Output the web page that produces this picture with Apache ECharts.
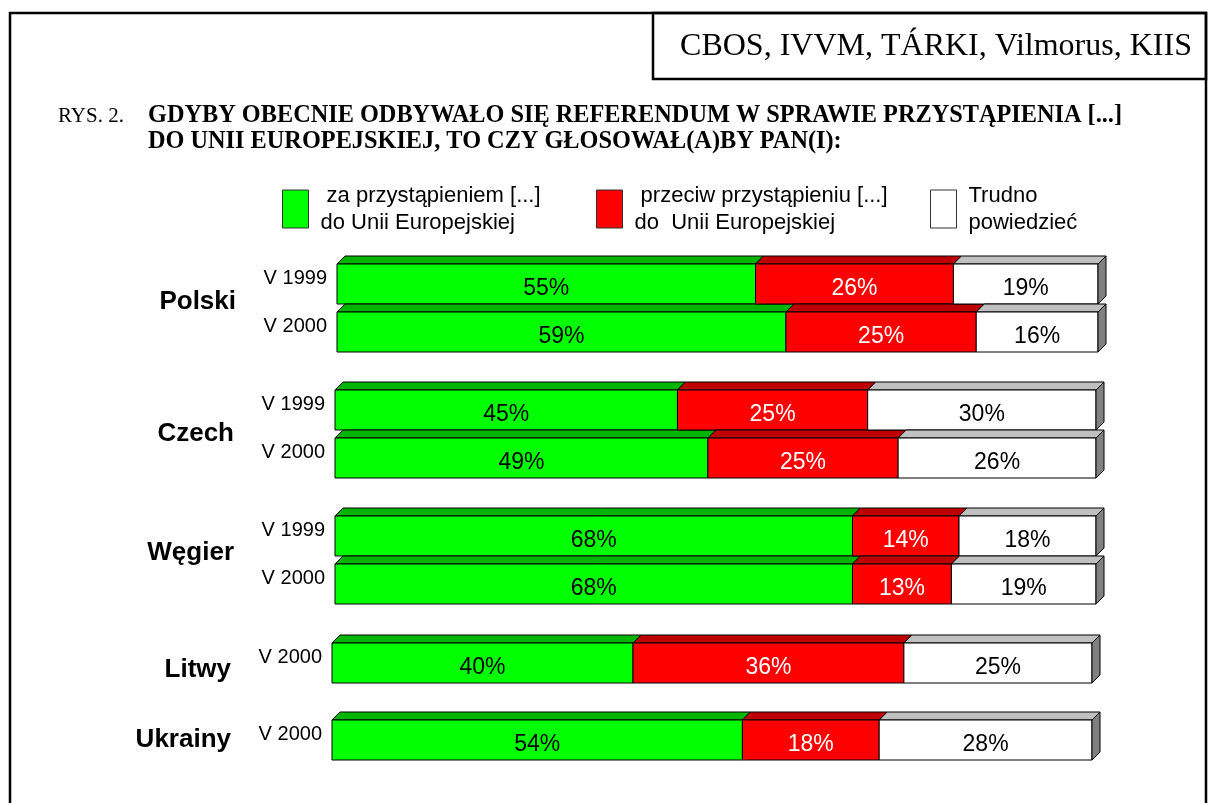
<!DOCTYPE html>
<html><head><meta charset="utf-8">
<script src="https://cdn.jsdelivr.net/npm/echarts@6/dist/echarts.min.js"></script>
<style>html,body{margin:0;padding:0;background:#fff}#c{width:1208px;height:803px}</style>
</head><body><div id="c"></div>
<script>
const countries = ['Polski', 'Czech', 'Węgier', 'Litwy', 'Ukrainy'];
const waves = [['V 1999', 'V 2000'], ['V 1999', 'V 2000'], ['V 1999', 'V 2000'], ['V 2000'], ['V 2000']];
const za = [[55, 59], [45, 49], [68, 68], [40], [54]];
const przeciw = [[26, 25], [25, 25], [14, 13], [36], [18]];
const trudno = [[19, 16], [30, 26], [18, 19], [25], [28]];
const seriesNames = [' za przystąpieniem [...]\ndo Unii Europejskiej', ' przeciw przystąpieniu [...]\ndo  Unii Europejskiej', 'Trudno\npowiedzieć'];
const sourceText = 'CBOS, IVVM, TÁRKI, Vilmorus, KIIS';
const titleLine1 = 'GDYBY OBECNIE ODBYWAŁO SIĘ REFERENDUM W SPRAWIE PRZYSTĄPIENIA [...]';
const titleLine2 = 'DO UNII EUROPEJSKIEJ, TO CZY GŁOSOWAŁ(A)BY PAN(I):';

const frontColors = ['#00ff00', '#ff0000', '#ffffff'];
const topColors = ['#00b400', '#bf0000', '#c0c0c0'];
const labelColors = ['#000000', '#ffffff', '#000000'];
const SIDE = '#808080';
const SANS = 'Liberation Sans, Arial, sans-serif';
const SERIF = 'Liberation Serif, Times New Roman, serif';
const BAND = 48, FACE = 40, DEPTH = 8;
const gridLayout = [
  {top: 260, left: 337, right: 110, nameShift: 6},
  {top: 386, left: 335, right: 112, nameShift: 0},
  {top: 512, left: 335, right: 112, nameShift: 7},
  {top: 639, left: 332, right: 116, nameShift: -7},
  {top: 716, left: 332, right: 116, nameShift: 0}
];

function makeRender(k) {
  return function (params, api) {
    const s = api.value(0), e = api.value(1), r = api.value(2), v = api.value(3);
    const p0 = api.coord([s, r]);
    const p1 = api.coord([e, r]);
    const x0 = p0[0], x1 = p1[0];
    const y0 = p0[1] - FACE / 2;
    const stroke = {stroke: '#000', lineWidth: 1};
    const children = [
      {type: 'polygon', shape: {points: [[x0, y0], [x0 + DEPTH, y0 - DEPTH], [x1 + DEPTH, y0 - DEPTH], [x1, y0]]},
        style: Object.assign({fill: topColors[k]}, stroke)},
      {type: 'rect', shape: {x: x0, y: y0, width: x1 - x0, height: FACE},
        style: Object.assign({fill: frontColors[k]}, stroke)}
    ];
    if (k === 2) {
      children.push({type: 'polygon', shape: {points: [[x1, y0], [x1 + DEPTH, y0 - DEPTH], [x1 + DEPTH, y0 - DEPTH + FACE], [x1, y0 + FACE]]},
        style: Object.assign({fill: SIDE}, stroke)});
    }
    children.push({type: 'text', x: (x0 + x1) / 2, y: p0[1] + 5,
      style: {text: v + '%', fill: labelColors[k], font: '23px ' + SANS, align: 'center', verticalAlign: 'middle'}});
    return {type: 'group', children: children};
  };
}

const grids = [], xAxes = [], yAxes = [], series = [];
countries.forEach(function (c, g) {
  const L = gridLayout[g];
  const vals = [za[g], przeciw[g], trudno[g]];
  const totals = waves[g].map(function (_, r) { return vals[0][r] + vals[1][r] + vals[2][r]; });
  grids.push({left: L.left, right: L.right, top: L.top, height: BAND * waves[g].length});
  xAxes.push({gridIndex: g, type: 'value', min: 0, max: Math.max.apply(null, totals), show: false});
  const ns = L.nameShift;
  const nameStyle = {fontFamily: SANS, fontSize: 26, fontWeight: 'bold', color: '#000', align: 'right'};
  if (ns > 0) { nameStyle.verticalAlign = 'bottom'; nameStyle.lineHeight = 2 * ns; }
  else if (ns < 0) { nameStyle.verticalAlign = 'top'; nameStyle.lineHeight = -2 * ns; }
  else { nameStyle.verticalAlign = 'middle'; }
  yAxes.push({gridIndex: g, type: 'category', inverse: true, data: waves[g],
    axisLine: {show: false}, axisTick: {show: false}, splitLine: {show: false},
    axisLabel: {fontFamily: SANS, fontSize: 20, color: '#000', margin: 10, verticalAlign: 'bottom', lineHeight: 12},
    name: c, nameLocation: 'middle', nameRotate: 0, nameGap: 101,
    nameTextStyle: nameStyle
  });
  for (let k = 0; k < 3; k++) {
    const data = waves[g].map(function (_, r) {
      let start = 0;
      for (let j = 0; j < k; j++) start += vals[j][r];
      return [start, start + vals[k][r], r, vals[k][r]];
    });
    series.push({type: 'custom', name: seriesNames[k], xAxisIndex: g, yAxisIndex: g,
      itemStyle: {color: frontColors[k]}, renderItem: makeRender(k), clip: false,
      encode: {x: [0, 1], y: 2}, data: data, silent: true});
  }
});

const legendLefts = [282, 596, 930];
const legends = seriesNames.map(function (n, k) {
  return {left: legendLefts[k], top: 172, padding: 0, data: [n], selectedMode: false,
    icon: 'rect', itemWidth: 26, itemHeight: 38,
    itemStyle: {borderColor: '#333', borderWidth: 1},
    textStyle: {fontFamily: SANS, fontSize: 22, color: '#000', lineHeight: 27, padding: [20, 0, 0, 7]}};
});

const chart = echarts.init(document.getElementById('c'), null, {renderer: 'canvas'});
chart.setOption({
  backgroundColor: '#ffffff',
  animation: false,
  title: {left: 58, top: 103, padding: 0,
    text: '{r|RYS. 2.}{b|' + titleLine1 + '}\n{s|}{b|' + titleLine2 + '}',
    textStyle: {fontWeight: 'normal', rich: {
      r: {fontFamily: SERIF, fontSize: 21, fontWeight: 'normal', color: '#000', width: 90, lineHeight: 26},
      s: {width: 90, lineHeight: 26},
      b: {fontFamily: SERIF, fontSize: 24.3, fontWeight: 'bold', color: '#000', lineHeight: 26}
    }}},
  legend: legends,
  grid: grids,
  xAxis: xAxes,
  yAxis: yAxes,
  series: series,
  graphic: [
    {type: 'rect', shape: {x: 10, y: 13, width: 1196, height: 830}, style: {fill: 'none', stroke: '#000', lineWidth: 2.5}, silent: true},
    {type: 'rect', shape: {x: 653, y: 13, width: 553, height: 66}, style: {fill: 'none', stroke: '#000', lineWidth: 2.5}, silent: true},
    {type: 'text', x: 936, y: 47, style: {text: sourceText, font: '32px ' + SERIF, fill: '#000', align: 'center', verticalAlign: 'middle'}, silent: true}
  ]
});
</script>
</body></html>
